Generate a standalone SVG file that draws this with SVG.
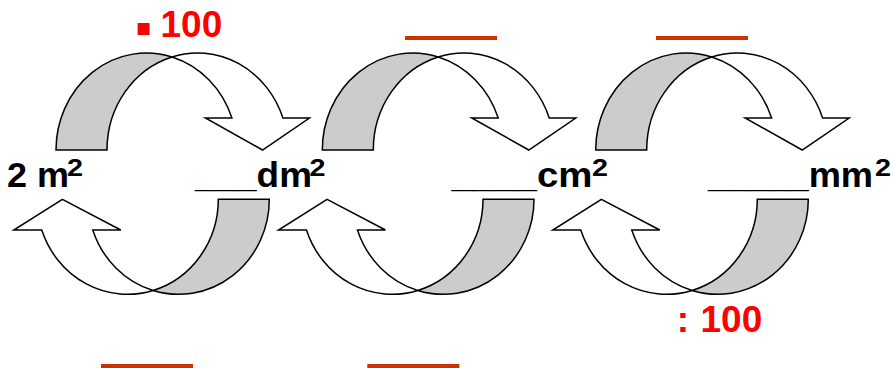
<svg xmlns="http://www.w3.org/2000/svg" xmlns:xlink="http://www.w3.org/1999/xlink" width="895" height="368" viewBox="0 0 895 368">
<style>
.back{fill:#cccccc;stroke:#000;stroke-width:1.5;stroke-linejoin:miter}
.front{fill:#ffffff;stroke:#000;stroke-width:1.5;stroke-linejoin:miter}
.unit{font-family:"Liberation Sans",Arial,sans-serif;font-weight:bold;font-size:35px;fill:#000}
.sup{font-family:"Liberation Sans",Arial,sans-serif;font-weight:bold;font-size:23px;fill:#000}
.op{font-family:"Liberation Sans",Arial,sans-serif;font-weight:bold;font-size:37px;fill:#ff0000}
.blank{fill:#cc3300}
</style>
<defs>
<g id="arrowTop">
<path class="back" d="M0,0 A90.5,97 0 0 1 116,-93.07 A90.5,97 0 0 0 51,0 Z"/>
<path class="front" d="M206.5,0 L149.43,-32 L175.93,-32 A90.5,97 0 0 0 116,-93.07 A90.5,97 0 0 1 226.93,-32 L253.43,-32 Z"/>
</g>
<g id="arrowBot">
<path class="back" d="M0,0 A90.7,95 0 0 1 116.2,-91.17 A90.7,95 0 0 0 51,0 Z"/>
<path class="front" d="M206.9,0 L148.53,-30.7 L176.53,-30.7 A90.7,95 0 0 0 116.2,-91.17 A90.7,95 0 0 1 227.53,-30.7 L255.53,-30.7 Z"/>
</g>
</defs>
<g id="connectors">
<use id="mul1" xlink:href="#arrowTop" transform="translate(56,150)"/>
<use id="mul2" xlink:href="#arrowTop" transform="translate(322.3,150)"/>
<use id="mul3" xlink:href="#arrowTop" transform="translate(595.7,150)"/>
<use id="div1" xlink:href="#arrowBot" transform="translate(269.3,199.3) rotate(180)"/>
<use id="div2" xlink:href="#arrowBot" transform="translate(534,199.3) rotate(180)"/>
<use id="div3" xlink:href="#arrowBot" transform="translate(808.3,199.3) rotate(180)"/>
</g>
<g id="node-m2">
<text class="unit" x="7" y="186.5" textLength="62" lengthAdjust="spacingAndGlyphs">2 m</text>
<text class="sup" x="67" y="176" textLength="16" lengthAdjust="spacingAndGlyphs">2</text>
</g>
<g id="node-dm2">
<text class="unit" x="195" y="186.5" textLength="117" lengthAdjust="spacingAndGlyphs">___dm</text>
<text class="sup" x="309.5" y="176" textLength="16" lengthAdjust="spacingAndGlyphs">2</text>
</g>
<g id="node-cm2">
<text class="unit" x="451.5" y="186.5" textLength="141" lengthAdjust="spacingAndGlyphs">____cm</text>
<text class="sup" x="592" y="176" textLength="16" lengthAdjust="spacingAndGlyphs">2</text>
</g>
<g id="node-mm2">
<text class="unit" x="708" y="186.5" textLength="165" lengthAdjust="spacingAndGlyphs">_____mm</text>
<text class="sup" x="875" y="176" textLength="16" lengthAdjust="spacingAndGlyphs">2</text>
</g>
<g id="op-mul">
<text class="op" y="36.7"><tspan x="135.5" y="35" font-family="DejaVu Sans" font-size="24">▪</tspan><tspan x="160.5" y="36.7">100</tspan></text>
</g>
<g id="op-div">
<text class="op" y="331.7"><tspan x="676.7">:</tspan><tspan x="700.5">100</tspan></text>
</g>
<g id="blanks">
<rect class="blank" x="405" y="36" width="92" height="4"/>
<rect class="blank" x="656" y="36" width="92" height="4"/>
<rect class="blank" x="101" y="364" width="92" height="4"/>
<rect class="blank" x="367.3" y="364" width="92" height="4"/>
</g>
</svg>
